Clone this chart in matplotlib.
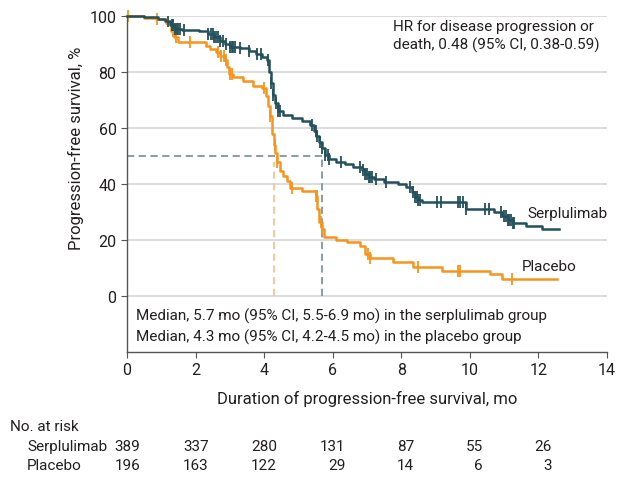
import numpy as np
import matplotlib
matplotlib.use("Agg")
import matplotlib.pyplot as plt

plt.rcParams['font.family'] = ['Roboto', 'DejaVu Sans']

# %% data
serpTime = [0, 0.5, 0.9, 1.1, 1.25, 1.4, 1.6, 2.1, 2.35, 2.55, 2.7, 2.85, 3.0, 3.3, 3.55, 3.75,
            3.95, 4.08, 4.15, 4.2, 4.26, 4.32, 4.4, 4.55, 4.8, 5.1, 5.35, 5.45, 5.52, 5.6, 5.68,
            5.78, 5.88, 6.1, 6.35, 6.6, 6.85, 6.95, 7.05, 7.2, 7.5, 7.9, 8.15, 8.3, 8.4, 8.5, 8.6,
            9.9, 10.7, 10.95, 11.1, 11.25, 11.65, 12.1, 12.6]
serpSurv = [100, 99.6, 99.0, 98.2, 97.0, 95.5, 95.0, 94.6, 93.6, 92.5, 91.0, 90.0, 89.0, 88.5, 87.6, 86.5,
            85.5, 84.5, 80.0, 76.0, 72.0, 69.0, 66.0, 64.8, 63.6, 62.5, 61.0, 59.0, 57.0, 55.0, 53.0,
            50.5, 49.0, 48.0, 47.0, 46.0, 45.0, 43.5, 42.5, 41.7, 40.7, 40.0, 38.9, 37.0, 35.5, 34.3, 33.6,
            31.1, 30.0, 28.5, 27.0, 26.0, 25.0, 23.9, 23.9]
serpCensor = [1.2, 1.3, 1.35, 1.4, 1.45, 1.5, 1.55, 1.65, 2.35, 2.45, 2.5, 2.55, 2.6, 2.65, 2.7, 2.8,
              2.9, 3.0, 3.05, 3.1, 3.15, 3.3, 3.55, 3.8, 3.9, 4.1, 4.2, 4.27, 4.35, 4.4, 4.45, 5.4,
              5.5, 5.55, 5.62, 5.7, 5.78, 5.85, 5.9, 6.25, 6.8, 6.88, 6.95, 7.0, 7.05, 7.1, 7.15,
              7.25, 7.55, 8.25, 8.35, 8.4, 8.45, 8.5, 8.55, 9.05, 9.15, 9.65, 9.7, 9.8, 9.9, 10.45,
              10.55, 10.9, 11.0, 11.05, 11.1, 11.15, 11.2, 11.25, 11.3]

placTime = [0, 0.5, 0.85, 1.15, 1.28, 1.38, 1.48, 2.3, 2.42, 2.6, 2.72, 2.85, 2.93, 2.97, 3.1, 3.38,
            3.67, 3.95, 4.05, 4.12, 4.17, 4.22, 4.28, 4.33, 4.38, 4.45, 4.55, 4.68, 4.75, 5.1, 5.5,
            5.55, 5.6, 5.68, 5.76, 6.1, 6.42, 6.8, 6.95, 7.08, 7.76, 8.34, 9.2, 10.6, 10.94, 12.55]
placSurv = [100, 99.5, 98.9, 97.5, 94.6, 92.5, 90.7, 89.5, 88.2, 87.3, 85.7, 84.3, 82.0, 79.3, 78.2, 76.8,
            75.0, 74.3, 71.5, 68.0, 64.3, 58.0, 54.0, 51.0, 48.0, 44.5, 43.0, 41.0, 38.5, 37.5, 35.7,
            31.0, 26.5, 24.0, 21.0, 20.0, 19.3, 17.9, 15.0, 13.6, 12.1, 10.4, 8.9, 7.9, 6.1, 6.1]
placCensor = [0.03, 0.87, 1.35, 1.42, 1.85, 2.65, 2.75, 2.82, 2.88, 3.0, 3.05, 4.0, 4.17, 4.32, 4.38,
              4.8, 5.5, 5.53, 5.65, 5.7, 7.03, 7.08, 8.49, 9.65, 9.7, 11.23]

medianSerp = 5.7
medianPlac = 4.3

riskTimes = [0, 2, 4, 6, 8, 10, 12]
riskSerp = [389, 337, 280, 131, 87, 55, 26]
riskPlac = [196, 163, 122, 29, 14, 6, 3]

colSerp = "#23505c"
colPlac = "#f7941d"
textCol = "#231f20"

def stepValue(times, surv, t):
    idx = np.searchsorted(times, t, side="right") - 1
    return np.array(surv)[idx]

# %% plot
fig = plt.figure(figsize=(6.33, 4.89), dpi=100)
ax = fig.add_axes([0.2006, 0.278, 0.7583, 0.687])

for y in range(0, 101, 20):
    ax.axhline(y, color="#d9d9d9", lw=1.3, zorder=0)

ax.plot([0, medianSerp], [50, 50], ls=(0, (4, 2.5)), color="#7d96a0", lw=1.3, zorder=1)
ax.plot([medianSerp, medianSerp], [0, 50], ls=(0, (4, 2.5)), color="#7d96a0", lw=1.3, zorder=1)
ax.plot([medianPlac, medianPlac], [0, 48], ls=(0, (4, 2.5)), color="#f9c58c", lw=1.3, zorder=1)

ax.step(serpTime, serpSurv, where="post", color=colSerp, lw=1.8, zorder=3, clip_on=False)
ax.step(placTime, placSurv, where="post", color=colPlac, lw=1.8, zorder=2, clip_on=False)
ax.plot(serpCensor, stepValue(serpTime, serpSurv, serpCensor), ls="none", marker="|",
        ms=8, mew=1.3, color=colSerp, zorder=3)
ax.plot(placCensor, stepValue(placTime, placSurv, placCensor), ls="none", marker="|",
        ms=8, mew=1.3, color=colPlac, zorder=2, clip_on=False)

ax.set_xlim(0, 14)
ax.set_ylim(-20, 100)
ax.set_xticks(range(0, 15, 2))
ax.set_yticks(range(0, 101, 20))
for side in ["top", "right"]:
    ax.spines[side].set_visible(False)
for side in ["left", "bottom"]:
    ax.spines[side].set_color("#555555")
    ax.spines[side].set_linewidth(1.0)
ax.tick_params(axis="both", labelsize=11.5, colors="#555555", labelcolor=textCol, length=4)
ax.set_xlabel("Duration of progression-free survival, mo", fontsize=12, color=textCol, labelpad=9)
ax.set_ylabel("Progression-free survival, %", fontsize=12, color=textCol, labelpad=8)
ax.yaxis.set_label_coords(-0.09, 0.61)

ax.text(7.75, 99, "HR for disease progression or\ndeath, 0.48 (95% CI, 0.38-0.59)",
        fontsize=11, color=textCol, va="top", linespacing=1.35)
ax.text(11.67, 29.6, "Serplulimab", fontsize=11, color=textCol, va="center")
ax.text(11.5, 10.7, "Placebo", fontsize=11, color=textCol, va="center")
ax.text(0.27, -7, "Median, 5.7 mo (95% CI, 5.5-6.9 mo) in the serplulimab group",
        fontsize=11, color=textCol, va="center")
ax.text(0.27, -14.5, "Median, 4.3 mo (95% CI, 4.2-4.5 mo) in the placebo group",
        fontsize=11, color=textCol, va="center")

# number at risk table
fig.text(10 / 633, 1 - 427 / 489, "No. at risk", fontsize=11, color=textCol, va="center")
fig.text(27 / 633, 1 - 447 / 489, "Serplulimab", fontsize=11, color=textCol, va="center")
fig.text(27 / 633, 1 - 466 / 489, "Placebo", fontsize=11, color=textCol, va="center")
for t, ns, npl in zip(riskTimes, riskSerp, riskPlac):
    xf = ax.transData.transform((t + 0.38, 0))[0] / fig.bbox.width
    fig.text(xf, 1 - 447 / 489, str(ns), fontsize=11, color=textCol, va="center", ha="right")
    fig.text(xf, 1 - 466 / 489, str(npl), fontsize=11, color=textCol, va="center", ha="right")

fig.savefig("out.png", dpi=100)
